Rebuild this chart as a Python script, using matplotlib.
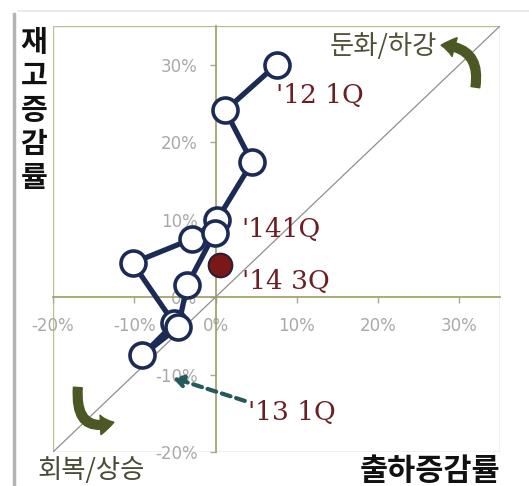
import matplotlib
matplotlib.use("Agg")
import matplotlib.pyplot as plt
from matplotlib.patches import FancyArrowPatch, Rectangle, ArrowStyle
from matplotlib.lines import Line2D
from matplotlib.ticker import FuncFormatter

plt.rcParams['font.family'] = ['Noto Sans CJK KR', 'DejaVu Sans']

# Shipment growth (x) vs. inventory growth (y), quarterly path, %
ship_growth = [7.5, 1.2, 4.5, 0.2, -2.9, -10.2, -5.1, -9.0, -4.6, -3.5, -0.1]
inv_growth = [30.0, 24.1, 17.4, 10.0, 7.5, 4.4, -3.4, -7.5, -3.9, 1.5, 8.3]
latest_ship = [0.6]
latest_inv = [4.2]

ticks = [-20, -10, 0, 10, 20, 30]
axis_min, axis_max = -20, 35

point_labels = ["'12 1Q", "'141Q", "'14 3Q", "'13 1Q"]
label_pos = [(7.5, 26.0), (3.2, 8.7), (3.2, 2.0), (4.0, -14.9)]

x_title = "출하증감률"
y_title = "재고증감률"
upper_note = "둔화/하강"
lower_note = "회복/상승"

navy = '#1b2b55'
maroon = '#6b1f24'
olive = '#4b5823'

fig = plt.figure(figsize=(5.29, 4.86), dpi=100)
ax = fig.add_axes([53 / 529, 1 - 452 / 486, 447 / 529, 426 / 486])
ax.set_xlim(axis_min, axis_max)
ax.set_ylim(axis_min, axis_max)

# Spines moved onto the zero lines
for s in ['top', 'right']:
    ax.spines[s].set_visible(False)
ax.spines['left'].set_position(('data', 0))
ax.spines['bottom'].set_position(('data', 0))
for s in ['left', 'bottom']:
    ax.spines[s].set_color('#9c9c62')
    ax.spines[s].set_linewidth(1.2)

# Plot-area border
ax.add_patch(Rectangle((0, 0), 1, 1, transform=ax.transAxes, fill=False,
                       edgecolor='#bdbd95', linewidth=1.0, zorder=1))

ax.set_xticks(ticks)
ax.set_yticks(ticks)
pct = FuncFormatter(lambda v, p: f"{int(v)}%")
ax.xaxis.set_major_formatter(pct)
ax.yaxis.set_major_formatter(pct)
ax.tick_params(axis='both', colors='#a8a8a8', labelsize=12, length=4, width=1)
ax.tick_params(axis='x', pad=10)
ax.tick_params(axis='y', pad=9)
for lab in ax.get_xticklabels() + ax.get_yticklabels():
    lab.set_family(['DejaVu Sans'])

# 45-degree reference line
ax.plot([axis_min, axis_max], [axis_min, axis_max], color='#8f8f8f', lw=0.9, zorder=2)

# Quarterly path
ax.plot(ship_growth, inv_growth, color=navy, lw=3.8, marker='o', ms=18,
        mfc='white', mec=navy, mew=2.6, zorder=4, clip_on=False)
ax.plot(latest_ship, latest_inv, linestyle='none', marker='o', ms=17,
        mfc='#7a1717', mec='#2c1e33', mew=1.5, zorder=5)

for txt, (tx, ty) in zip(point_labels, label_pos):
    ax.text(tx, ty, txt, color=maroon, fontsize=19, family=['DejaVu Serif'],
            va='center', ha='left', zorder=6)

# Dashed pointer to the '13 1Q point
ax.annotate('', xy=(-5.3, -10.4), xytext=(3.6, -13.4),
            arrowprops=dict(arrowstyle='-|>,head_length=0.6,head_width=0.35',
                            lw=3, ls=(0, (2.2, 1.4)), color='#255a5a',
                            shrinkA=0, shrinkB=0), zorder=6)

# Corner notes with curved arrows
ax.text(0.74, 0.951, upper_note, transform=ax.transAxes, fontsize=19,
        color='#52523a', ha='center', va='center')
ax.text(0.085, -0.043, lower_note, transform=ax.transAxes, fontsize=19,
        color='#4a4a38', ha='center', va='center', clip_on=False)

simple = ArrowStyle.Simple(head_length=0.7, head_width=1.0, tail_width=0.45)
ax.add_patch(FancyArrowPatch((0.944, 0.85), (0.862, 0.955), transform=ax.transAxes,
                             arrowstyle=simple, mutation_scale=14,
                             connectionstyle='angle3,angleA=80,angleB=0',
                             color=olive, zorder=6))
ax.add_patch(FancyArrowPatch((0.056, 0.158), (0.142, 0.072), transform=ax.transAxes,
                             arrowstyle=simple, mutation_scale=14,
                             connectionstyle='angle3,angleA=-95,angleB=20',
                             color=olive, zorder=6))

# Axis titles
fig.text(430 / 529, 1 - 455 / 486, x_title, fontsize=22, fontweight='bold',
         ha='center', va='top', color='#111111')
fig.text(34 / 529, 1 - 27 / 486, "\n".join(y_title), fontsize=21, fontweight='bold',
         ha='center', va='top', color='#111111', linespacing=1.17)

# Outer frame lines
fig.add_artist(Line2D([14 / 529, 14 / 529], [0, 1 - 14 / 486], transform=fig.transFigure,
                      color='#b4b4b4', lw=2.5))
fig.add_artist(Line2D([18 / 529, 1], [1 - 11 / 486, 1 - 11 / 486], transform=fig.transFigure,
                      color='#e6e6e6', lw=1.2))

fig.savefig('out.png', dpi=100)
